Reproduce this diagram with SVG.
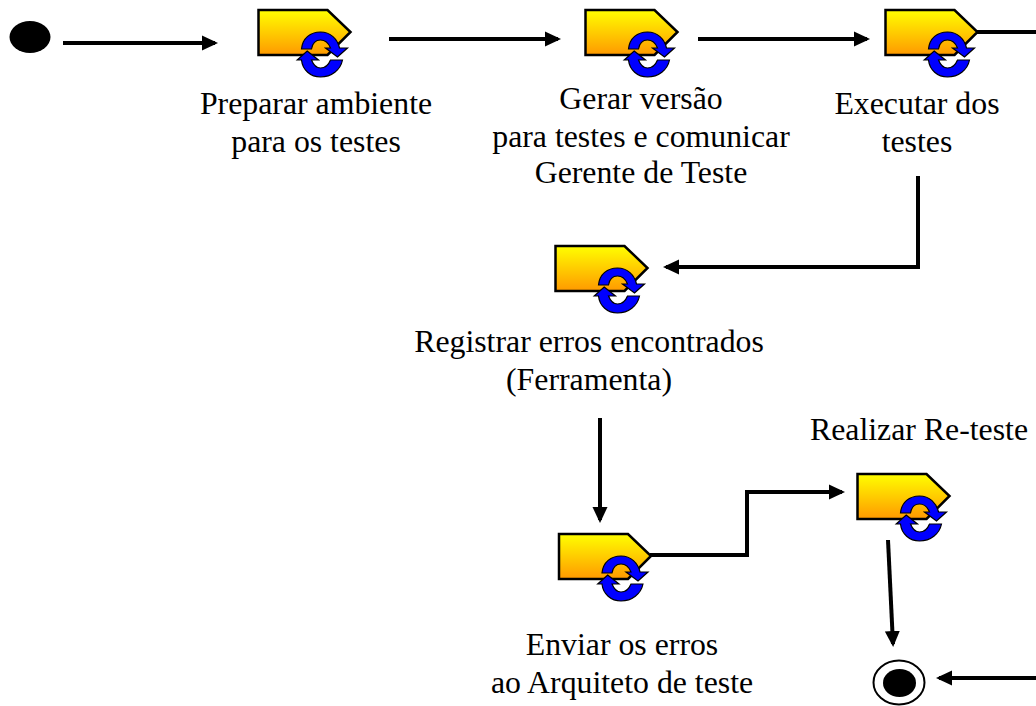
<svg xmlns="http://www.w3.org/2000/svg" width="1036" height="706" viewBox="0 0 1036 706">
<style>
.c{fill:none;stroke:#000;stroke-width:4}
.h{fill:#000}
text{font-family:"Liberation Serif","Times New Roman",serif;font-size:31.8px;fill:#000;text-anchor:middle}
.tag{fill:url(#g);stroke:#000;stroke-width:2.500}
.rot{fill:#0000ff;stroke:#000;stroke-width:1.200}
</style>
<defs>
<linearGradient id="g" x1="0" y1="0" x2="0" y2="1"><stop offset="0" stop-color="#ffff00"/><stop offset="1" stop-color="#ff9900"/></linearGradient>
<marker id="a" markerUnits="userSpaceOnUse" markerWidth="18" markerHeight="16" refX="13" refY="8" orient="auto"><path class="h" d="M0 0.500L16 8L0 15.500Z"/></marker>
<symbol id="icon" width="100" height="72" viewBox="-2 -2 100 72" overflow="visible">
<path class="tag" d="M0 0H69L92 22L69 45H0Z"/>
<path class="rot" d="M43 39C44 28 52 22 62 22C72 22 79 29 81 38L89 38L79 47L67 38L72 38C70 33 67 30 62 30C57 30 54 33 53 39Z"/>
<path class="rot" d="M84 50C82 60 73 67 62 67C52 67 44 60 43 50L38.700 50L48.700 41L60 50L53 50C55 55 58 58 62 58C67 58 70 55 72 50Z"/>
</symbol>
</defs>
<g id="connectors">
<path class="c" marker-end="url(#a)" d="M63 43H215"/>
<path class="c" marker-end="url(#a)" d="M389 39H558"/>
<path class="c" marker-end="url(#a)" d="M698 39H867"/>
<path class="c" d="M975 32H1036"/>
<path class="c" marker-end="url(#a)" d="M918 176V267H666"/>
<path class="c" marker-end="url(#a)" d="M600 418V520"/>
<path class="c" marker-end="url(#a)" d="M650 555H747V492H842"/>
<path class="c" marker-end="url(#a)" d="M888 540L893 644"/>
<path class="c" marker-end="url(#a)" d="M1036 678H939"/>
</g>
<g id="start"><ellipse cx="30" cy="37" rx="20.500" ry="16" fill="#000"/></g>
<g id="n1"><use href="#icon" x="256.500" y="8"/><text x="316" y="114">Preparar ambiente</text><text x="316" y="152">para os testes</text></g>
<g id="n2"><use href="#icon" x="583.500" y="8"/><text x="641" y="109">Gerar versão</text><text x="641" y="147">para testes e comunicar</text><text x="641" y="183">Gerente de Teste</text></g>
<g id="n3"><use href="#icon" x="883.500" y="8"/><text x="917" y="114">Executar dos</text><text x="917" y="152">testes</text></g>
<g id="n4"><use href="#icon" x="553.500" y="244"/><text x="589" y="352">Registrar erros encontrados</text><text x="589" y="390">(Ferramenta)</text></g>
<g id="n5"><use href="#icon" x="557" y="532"/><text x="622" y="655">Enviar os erros</text><text x="622" y="693">ao Arquiteto de teste</text></g>
<g id="n6"><use href="#icon" x="855.500" y="472"/><text x="919" y="440">Realizar Re-teste</text></g>
<g id="end"><ellipse cx="899" cy="682.500" rx="25.500" ry="22" fill="#fff" stroke="#000" stroke-width="2"/><ellipse cx="899.500" cy="683" rx="16.500" ry="14" fill="#000"/></g>
</svg>
